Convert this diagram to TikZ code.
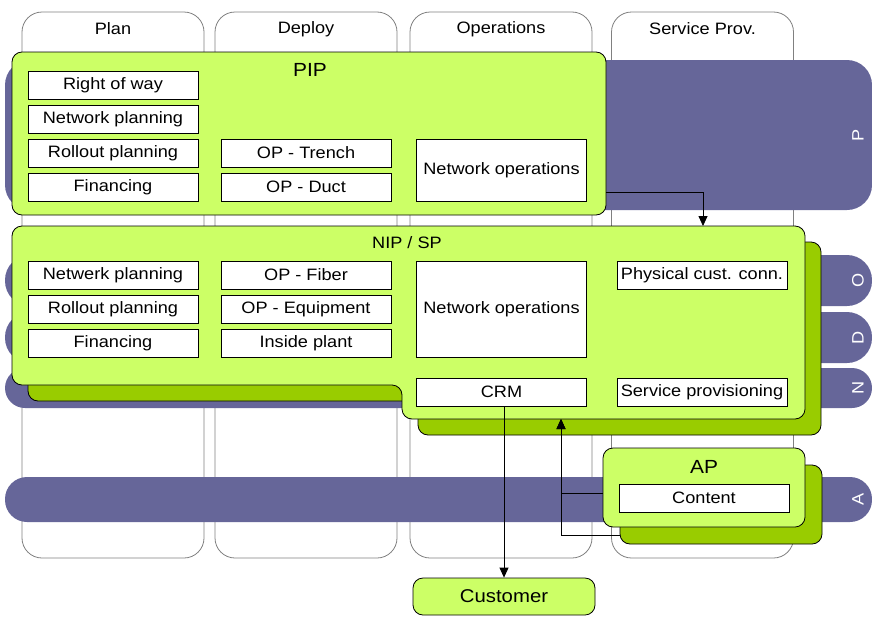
\documentclass[tikz,border=0pt]{standalone}
\usepackage{fontspec}
\setmainfont{Liberation Sans}[FakeStretch=1.1]
\usepackage{tikz}
\usetikzlibrary{arrows.meta,calc}
\definecolor{pipgreen}{HTML}{CCFF66}
\definecolor{pipshadow}{HTML}{99CC00}
\definecolor{bandblue}{HTML}{666699}
\definecolor{colgray}{HTML}{808080}

\begin{document}
\begin{tikzpicture}[
    x=1pt, y=-1pt,
    >={Triangle[length=10pt,width=9pt]},
    font=\fontsize{16.5}{19}\selectfont,
    column/.style={draw=colgray, fill=white, rounded corners=20pt, line width=0.8pt},
    panel/.style={draw, fill=pipgreen, rounded corners=10pt, line width=0.8pt},
    shade/.style={draw, fill=pipshadow, rounded corners=10pt, line width=0.8pt},
    task/.style={draw, fill=white, line width=0.8pt, minimum width=170pt, minimum height=28pt, inner sep=0pt},
    bandlabel/.style={rotate=90, text=white},
    big/.style={font=\fontsize{19}{23}\selectfont},
    flow/.style={->, line width=0.8pt}
]
    \useasboundingbox (0,0) rectangle (872,616);

    % Phases
    \foreach \x/\colname/\txt in {113/plan/Plan, 306/deploy/Deploy, 501/ops/Operations, 702.5/prov/Service Prov.} {
        \node[column, minimum width=182pt, minimum height=546pt] (\colname) at (\x,285) {};
        \node (\colname lbl) at (\x,29) {\txt};
    }

    % Layers
    \foreach \top/\bot/\r/\lay in {60/210/25/P, 255/306/25/O, 312/363/25/D, 368/408/20/N, 477/522/22/A} {
        \fill[bandblue, rounded corners=\r pt] (5,\top) rectangle (872,\bot);
        \node[bandlabel] (band\lay) at (858,{(\top+\bot)/2}) {\lay};
    }

    % PIP
    \node[panel, minimum width=594pt, minimum height=163pt] (pip) at (309,133.5) {};
    \node[big] (piptitle) at (310,70) {PIP};
    \node[task] (pway) at (113,85) {Right of way};
    \node[task] (pplan) at (113,119) {Network planning};
    \node[task] (proll) at (113,153) {Rollout planning};
    \node[task] (pfin) at (113,187) {Financing};
    \node[task] (ptrench) at (306,153) {OP - Trench};
    \node[task] (pduct) at (306,187) {OP - Duct};
    \node[task, minimum height=62pt] (pnetops) at (501.5,170) {Network operations};

    % NIP / SP
    \draw[shade, shift={(16,16)}] (12,226) -- (805,226) -- (805,419) -- (402,419) -- (402,385) -- (12,385) -- cycle;
    \draw[panel] (12,226) -- (805,226) -- (805,419) -- (402,419) -- (402,385) -- (12,385) -- cycle;
    \coordinate (nipin) at (703,226);
    \coordinate (nipout) at (561,419);
    \coordinate (pipout) at (606,192);
    \node (niptitle) at (407,243) {NIP / SP};
    \node[task] (nplan) at (113,275) {Netwerk planning};
    \node[task] (nroll) at (113,309) {Rollout planning};
    \node[task] (nfin) at (113,343) {Financing};
    \node[task] (nfiber) at (306,275) {OP - Fiber};
    \node[task] (nequip) at (306,309) {OP - Equipment};
    \node[task] (ninside) at (306,343) {Inside plant};
    \node[task, minimum height=96pt] (nnetops) at (501.5,309) {Network operations};
    \node[task] (ncrm) at (501.5,392) {CRM};
    \node[task] (nphys) at (702,275) {Physical cust. conn.};
    \node[task] (nserv) at (702,392) {Service provisioning};

    % AP
    \node[shade, minimum width=202pt, minimum height=79pt] (apsh) at (721,504.5) {};
    \node[panel, minimum width=202pt, minimum height=79pt] (ap) at (704,487.5) {};
    \node[big] (aptitle) at (704,467) {AP};
    \node[task] (content) at (704,498) {Content};

    % Customer
    \node[panel, font=\fontsize{18.5}{22}\selectfont, minimum width=182pt, minimum height=37pt] (cust) at (504,596.5) {Customer};

    % Flows
    \draw[flow] (pipout) -| (nipin);
    \draw[flow] (ncrm.south -| cust.north) -- (cust.north);
    \draw[flow] ([yshift=-6pt]ap.west) -| (nipout);
    \draw[flow] ([yshift=9pt]apsh.south west) -| (nipout);
\end{tikzpicture}
\end{document}
